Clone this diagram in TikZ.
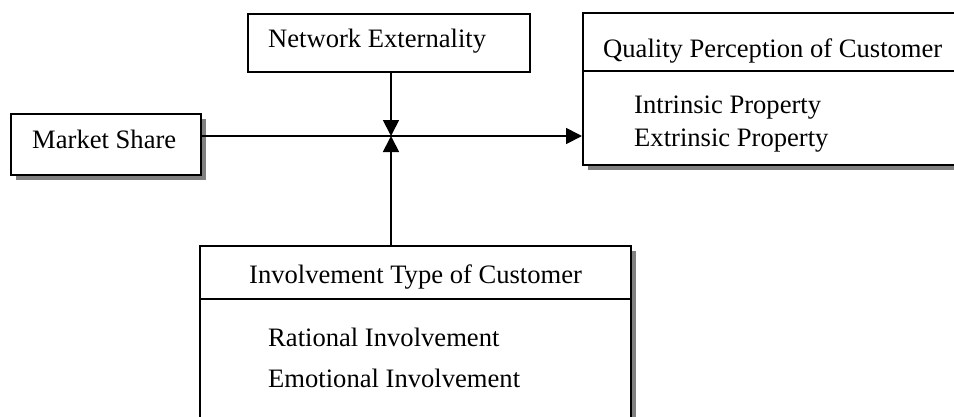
\documentclass[tikz,border=0pt]{standalone}
\usepackage{fontspec}
\setmainfont{Liberation Serif}
\usetikzlibrary{arrows.meta,shadows}

\tikzset{
  boxShadow/.style={drop shadow={shadow xshift=5pt,shadow yshift=-5pt,fill=black!50,opacity=1}},
}

\begin{document}
\begin{tikzpicture}[x=1pt,y=-1pt,font=\fontsize{26.6}{30}\selectfont,
  frame/.style={draw, line width=1.8pt, fill=white, inner sep=0pt, anchor=north west},
  txt/.style={anchor=base west, inner sep=0pt},
  link/.style={line width=1.8pt, -{Triangle[length=16pt,width=16pt]}}]
\useasboundingbox (0,0) rectangle (954,416);
% boxes
\node[frame, boxShadow, minimum width=190pt, minimum height=61pt] (market) at (10,113) {};
\node[frame, minimum width=282pt, minimum height=58pt] (network) at (247,13) {};
\node[frame, boxShadow, minimum width=400pt, minimum height=152pt] (quality) at (582,12) {};
\node[frame, boxShadow, minimum width=431pt, minimum height=200pt] (involve) at (199,245) {};
\coordinate (qualityCut) at (0,71);
\coordinate (involveCut) at (0,299);
\draw[line width=1.8pt] (quality.west |- qualityCut) -- (quality.east |- qualityCut);
\draw[line width=1.8pt] (involve.west |- involveCut) -- (involve.east |- involveCut);
% texts
\node[txt] (marketText) at (32,148) {Market Share};
\node[txt] (networkText) at (268,47) {Network Externality};
\node[txt] (qualityTitle) at (603,57) {Quality Perception of Customer};
\node[txt] (intrinsic) at (634,113) {Intrinsic Property};
\node[txt] (extrinsic) at (634,146) {Extrinsic Property};
\node[txt] (involveTitle) at (249,283) {Involvement Type of Customer};
\node[txt] (rational) at (268,346) {Rational Involvement};
\node[txt] (emotional) at (268,387) {Emotional Involvement};
% arrows
\coordinate (hub) at (391,136);
\draw[link] (network.south -| hub) -- (hub);
\draw[link] (involve.north -| hub) -- (hub);
\draw[link] (market.east |- hub) -- (quality.west |- hub);
\end{tikzpicture}
\end{document}
